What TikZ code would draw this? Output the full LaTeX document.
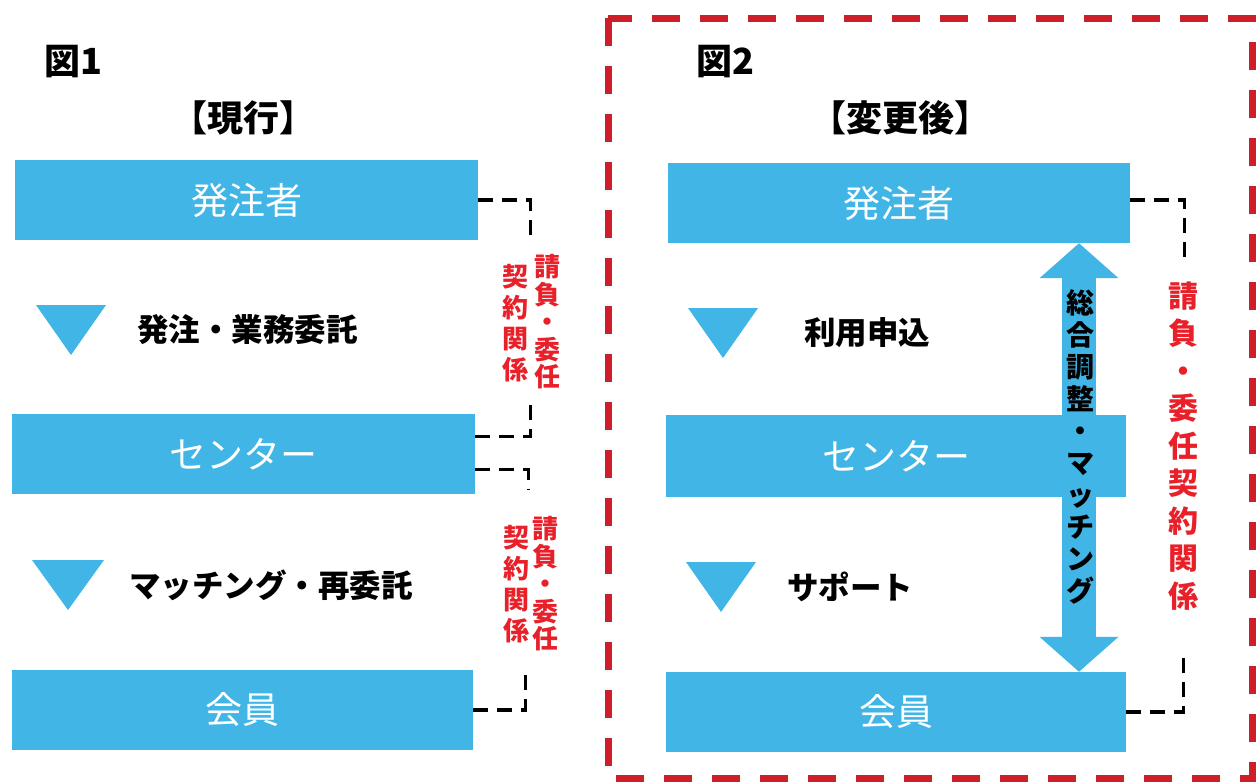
\documentclass[tikz,border=0pt]{standalone}
\usepackage{fontspec}
\setmainfont{Noto Sans CJK JP}
\usetikzlibrary{arrows.meta,calc}
\definecolor{boxblue}{RGB}{64,181,230}
\definecolor{redtxt}{RGB}{232,32,42}
\definecolor{redframe}{RGB}{206,30,40}
\begin{document}
\begin{tikzpicture}[x=1pt,y=-1pt,
 box/.style={fill=boxblue, text=white, minimum width=463pt, minimum height=80pt, inner sep=0pt, font=\fontsize{37}{37}\selectfont},
 lbl/.style={font=\bfseries\fontsize{31.5}{31.5}\selectfont, anchor=west, inner sep=0pt},
 ttl/.style={font=\bfseries\fontsize{36}{36}\selectfont, inner sep=0pt},
 tri/.style={fill=boxblue},
 dashline/.style={draw=black, line width=3.2pt, dash pattern=on 15pt off 9pt},
 vred/.style={text=redtxt, align=center, inner sep=0pt},
 varrow/.style={text=black, align=center, inner sep=0pt, font=\bfseries\fontsize{28}{32}\selectfont}
]
\useasboundingbox (0,0) rectangle (1257,782);
\fill[white] (0,0) rectangle (1257,782);

% ---------- Figure 1 ----------
\node[ttl, anchor=west] (t1) at (44,62) {図1};
\node[ttl] (h1) at (243,118) {【現行】};

\node[box] (L1) at (246.5,200) {発注者};
\node[box] (L2) at (243.5,454) {センター};
\node[box, minimum width=461pt] (L3) at (242.5,710) {会員};

\fill[tri] (36,305) -- (106,305) -- (71,355) -- cycle;
\fill[tri] (32,560) -- (104,560) -- (68,610) -- cycle;
\node[lbl] (a1) at (137,330) {発注・業務委託};
\node[lbl] (a2) at (129,585) {マッチング・再委託};

\draw[dashline] (L1.east) -- ++(52,0) -- ++(0,40);
\draw[dashline] ($(L2.north east)+(0,23)$) -- ++(55,0) -- ++(0,-32);
\draw[dashline] ($(L2.north east)+(0,56)$) -- ++(53,0) -- ++(0,20);
\draw[dashline] (L3.east) -- ++(52,0) -- ++(0,-40);

\node[vred, font=\bfseries\fontsize{26}{27.5}\selectfont] (r1a) at (547,322) {請\\負\\・\\委\\任};
\node[vred, font=\bfseries\fontsize{26}{31}\selectfont] (r1b) at (515,323) {契\\約\\関\\係};
\node[vred, font=\bfseries\fontsize{26}{27.5}\selectfont] (r2a) at (545,584) {請\\負\\・\\委\\任};
\node[vred, font=\bfseries\fontsize{26}{31}\selectfont] (r2b) at (516,584) {契\\約\\関\\係};

% ---------- Figure 2 ----------
\draw[redframe, line width=7pt, dash pattern=on 28pt off 20pt] (608,18) rectangle (1252,778);

\node[ttl, anchor=west] (t2) at (696,62) {図2};
\node[ttl] (h2) at (900,118) {【変更後】};

\node[box, minimum width=462pt] (R1) at (899,203) {発注者};
\node[box, minimum width=460pt, minimum height=82pt] (R2) at (896,456) {センター};
\node[box, minimum width=460pt] (R3) at (896,712) {会員};

\fill[tri] (688,308) -- (758,308) -- (723,358) -- cycle;
\fill[tri] (686,562) -- (756,562) -- (721,612) -- cycle;
\node[lbl] (b1) at (804,333) {利用申込};
\node[lbl] (b2) at (787,587) {サポート};

\coordinate (ax) at (1079,0);
\draw[boxblue, line width=34pt, {Triangle[width=77pt,length=35pt]}-{Triangle[width=77pt,length=35pt]}] (R1.south -| ax) -- (R3.north -| ax);
\node[varrow] (m) at (1080,447) {総\\合\\調\\整\\・\\マ\\ッ\\チ\\ン\\グ};

\draw[dashline] ($(R1.east)+(0,-3)$) -- ++(54,0) -- ++(0,65);
\draw[dashline] (R3.east) -- ++(57,0) -- ++(0,-60);
\node[vred, font=\bfseries\fontsize{30}{37.5}\selectfont] (r3) at (1183,446) {請\\負\\・\\委\\任\\契\\約\\関\\係};
\end{tikzpicture}
\end{document}
